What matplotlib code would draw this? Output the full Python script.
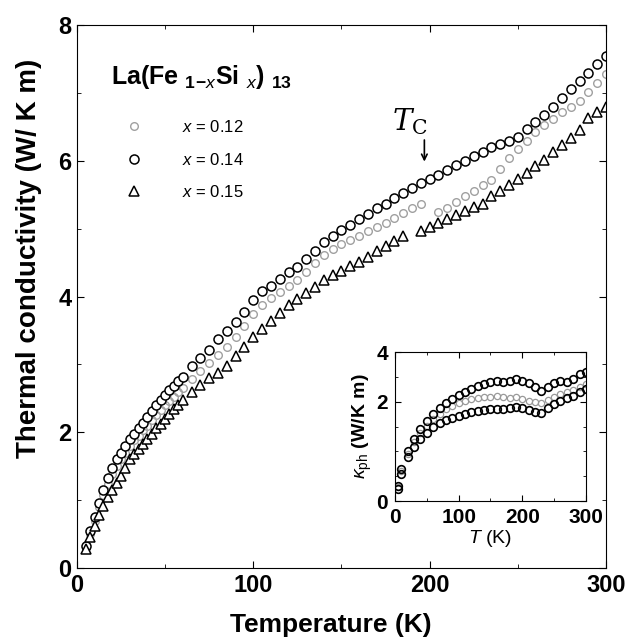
import numpy as np
import matplotlib
matplotlib.use("Agg")
import matplotlib.pyplot as plt
from matplotlib.ticker import MultipleLocator

plt.rcParams["font.family"] = ["Liberation Sans", "DejaVu Sans"]
plt.rcParams["mathtext.fontset"] = "custom"
plt.rcParams["mathtext.rm"] = "Liberation Sans"
plt.rcParams["mathtext.it"] = "Liberation Sans:italic"
plt.rcParams["mathtext.bf"] = "Liberation Sans:bold"

# main panel: thermal conductivity (W/K m) vs temperature (K)
T_014 = [5, 7.5, 10, 12.5, 15, 17.5, 20, 22.5, 25, 27.5, 30, 32.5, 35, 37.5, 40, 42.5, 45, 47.5, 50, 52.5, 55, 57.5, 60,
         65, 70, 75, 80, 85, 90, 95, 100,
         105, 110, 115, 120, 125, 130, 135, 140, 145, 150, 155, 160, 165, 170, 175, 180, 185, 190, 195, 200,
         205, 210, 215, 220, 225, 230, 235, 240, 245, 250, 255, 260, 265, 270, 275, 280, 285, 290, 295, 300]
k_014 = [0.32, 0.55, 0.75, 0.96, 1.15, 1.32, 1.48, 1.60, 1.70, 1.80, 1.90, 1.98, 2.06, 2.14, 2.22, 2.31, 2.40, 2.48, 2.55, 2.62, 2.68, 2.75, 2.82,
         2.98, 3.10, 3.22, 3.37, 3.50, 3.62, 3.78, 3.95,
         4.08, 4.16, 4.26, 4.36, 4.44, 4.56, 4.68, 4.80, 4.89, 4.98, 5.06, 5.14, 5.22, 5.30, 5.37, 5.45, 5.53, 5.60, 5.68, 5.74,
         5.80, 5.86, 5.94, 6.00, 6.07, 6.13, 6.20, 6.25, 6.30, 6.36, 6.47, 6.58, 6.68, 6.80, 6.93, 7.06, 7.18, 7.30, 7.43, 7.55]

T_012 = [5, 7.5, 10, 12.5, 15, 17.5, 20, 22.5, 25, 27.5, 30, 32.5, 35, 37.5, 40, 42.5, 45, 47.5, 50, 52.5, 55, 57.5, 60,
         65, 70, 75, 80, 85, 90, 95, 100,
         105, 110, 115, 120, 125, 130, 135, 140, 145, 150, 155, 160, 165, 170, 175, 180, 185, 190, 195,
         205, 210, 215, 220, 225, 230, 235, 240, 245, 250, 255, 260, 265, 270, 275, 280, 285, 290, 295, 300]
k_012 = [0.30, 0.50, 0.70, 0.90, 1.08, 1.24, 1.38, 1.50, 1.60, 1.70, 1.80, 1.88, 1.95, 2.03, 2.10, 2.18, 2.26, 2.33, 2.40, 2.46, 2.52, 2.59, 2.65,
         2.78, 2.90, 3.02, 3.14, 3.26, 3.40, 3.56, 3.74,
         3.88, 3.98, 4.07, 4.16, 4.25, 4.37, 4.49, 4.61, 4.70, 4.77, 4.84, 4.90, 4.97, 5.03, 5.09, 5.16, 5.23, 5.30, 5.36,
         5.25, 5.30, 5.40, 5.48, 5.56, 5.64, 5.72, 5.88, 6.04, 6.18, 6.30, 6.42, 6.53, 6.62, 6.72, 6.80, 6.89, 7.02, 7.15, 7.28]

T_015 = [5, 7.5, 10, 12.5, 15, 17.5, 20, 22.5, 25, 27.5, 30, 32.5, 35, 37.5, 40, 42.5, 45, 47.5, 50, 52.5, 55, 57.5, 60,
         65, 70, 75, 80, 85, 90, 95, 100,
         105, 110, 115, 120, 125, 130, 135, 140, 145, 150, 155, 160, 165, 170, 175, 180, 185,
         195, 200, 205, 210, 215, 220, 225, 230, 235, 240, 245, 250, 255, 260, 265, 270, 275, 280, 285, 290, 295, 300]
k_015 = [0.28, 0.45, 0.62, 0.78, 0.92, 1.04, 1.15, 1.26, 1.36, 1.48, 1.60, 1.68, 1.76, 1.83, 1.90, 1.98, 2.06, 2.13, 2.20, 2.27, 2.34, 2.40, 2.47,
         2.60, 2.70, 2.80, 2.88, 2.98, 3.12, 3.26, 3.40,
         3.52, 3.64, 3.76, 3.87, 3.96, 4.05, 4.14, 4.24, 4.32, 4.38, 4.45, 4.51, 4.59, 4.67, 4.75, 4.82, 4.90,
         4.97, 5.02, 5.08, 5.14, 5.20, 5.26, 5.32, 5.37, 5.48, 5.55, 5.64, 5.73, 5.82, 5.92, 6.02, 6.13, 6.23, 6.34, 6.45, 6.64, 6.72, 6.80]

# inset: phonon part kappa_ph
Ti = [5, 10, 20, 30, 40, 50, 60, 70, 80, 90, 100, 110, 120, 130, 140, 150, 160, 170, 180, 190,
      200, 210, 220, 230, 240, 250, 260, 270, 280, 290, 300]
kph_014 = [0.30, 0.65, 1.00, 1.25, 1.45, 1.62, 1.76, 1.88, 1.98, 2.06, 2.14, 2.20, 2.26, 2.31, 2.36, 2.40, 2.42, 2.40, 2.42, 2.45,
           2.42, 2.38, 2.30, 2.22, 2.30, 2.38, 2.42, 2.40, 2.45, 2.55, 2.60]
kph_012 = [0.28, 0.60, 0.95, 1.18, 1.38, 1.52, 1.65, 1.76, 1.85, 1.92, 1.98, 2.02, 2.05, 2.08, 2.10, 2.10, 2.12, 2.10, 2.08, 2.10,
           2.05, 2.02, 2.00, 1.98, 2.04, 2.10, 2.15, 2.20, 2.24, 2.30, 2.35]
kph_015 = [0.25, 0.55, 0.88, 1.08, 1.25, 1.38, 1.50, 1.58, 1.64, 1.68, 1.72, 1.76, 1.79, 1.82, 1.84, 1.85, 1.86, 1.86, 1.88, 1.90,
           1.88, 1.84, 1.80, 1.78, 1.88, 1.96, 2.02, 2.08, 2.12, 2.20, 2.25]

labels = ["$x$ = 0.12", "$x$ = 0.14", "$x$ = 0.15"]

fig = plt.figure(figsize=(6.3, 6.4), dpi=100)
ax = fig.add_axes([0.122, 0.1125, 0.840, 0.848])

grey = dict(marker="o", ms=5.5, mfc="none", mec="#a0a0a0", mew=1.0, ls="none")
circ = dict(marker="o", ms=6.5, mfc="white", mec="black", mew=1.1, ls="none")
tri = dict(marker="^", ms=6.5, mfc="white", mec="black", mew=1.1, ls="none")

h1, = ax.plot(T_012, k_012, **grey)
h2, = ax.plot(T_014, k_014, **circ)
h3, = ax.plot(T_015, k_015, **tri)

ax.set_xlim(0, 300)
ax.set_ylim(0, 8)
ax.xaxis.set_major_locator(MultipleLocator(100))
ax.xaxis.set_minor_locator(MultipleLocator(50))
ax.yaxis.set_major_locator(MultipleLocator(2))
ax.yaxis.set_minor_locator(MultipleLocator(1))
ax.tick_params(which="both", direction="in", top=True, right=True)
ax.tick_params(which="major", length=5, labelsize=17, pad=4)
ax.tick_params(which="minor", length=3)
for lab in ax.get_xticklabels() + ax.get_yticklabels():
    lab.set_fontweight("bold")
ax.set_xlabel("Temperature (K)", fontsize=19, fontweight="bold")
ax.set_ylabel("Thermal conductivity (W/ K m)", fontsize=20, fontweight="bold")
ax.xaxis.set_label_coords(0.48, -0.082)
ax.yaxis.set_label_coords(-0.065, 0.57)

ax.text(0.065, 0.905, r"La(Fe $_{\mathbf{1\!-\!}x}$Si $_x$) $_{\mathbf{13}}$", transform=ax.transAxes,
        fontsize=18, fontweight="bold", va="center")
ax.legend([h1, h2, h3], labels, loc="upper left", bbox_to_anchor=(0.06, 0.855), frameon=False,
          fontsize=12, handletextpad=2.3, labelspacing=1.0, handlelength=1.2)

ax.text(189, 6.58, r"$T_{\rm C}$", fontsize=21, ha="center", va="center",
        math_fontfamily="dejavuserif")
ax.annotate("", xy=(197, 5.95), xytext=(197, 6.35),
            arrowprops=dict(arrowstyle="->", color="black", lw=1.2))

# inset
ins = fig.add_axes([0.627, 0.217, 0.303, 0.233])
ins.plot(Ti, kph_012, marker="o", ms=4.5, mfc="none", mec="#999999", mew=0.9, ls="none")
ins.plot(Ti, kph_014, marker="o", ms=5.5, mfc="none", mec="black", mew=1.2, ls="none")
ins.plot(Ti, kph_015, marker="o", ms=5.5, mfc="none", mec="black", mew=1.2, ls="none")
ins.set_xlim(0, 300)
ins.set_ylim(0, 3)
ins.set_xticks([0, 100, 200, 300])
ins.set_xticks([50, 150, 250], minor=True)
ins.set_yticks([0, 2, 3])
ins.set_yticklabels(["0", "2", "4"])
ins.set_yticks([0.5, 1, 1.5, 2.5], minor=True)
ins.tick_params(which="both", direction="in", top=True, right=True)
ins.tick_params(which="major", length=4, labelsize=15)
ins.tick_params(axis="x", pad=5)
ins.tick_params(axis="y", pad=5)
ins.tick_params(which="minor", length=2.5)
for lab in ins.get_xticklabels() + ins.get_yticklabels():
    lab.set_fontweight("bold")
ins.set_xlabel("$T$ (K)", fontsize=14, labelpad=1)
ins.set_ylabel(r"$\kappa_{\rm ph}$ (W/K m)", fontsize=14, fontweight="bold", labelpad=2)

fig.savefig("out.png", dpi=100)
